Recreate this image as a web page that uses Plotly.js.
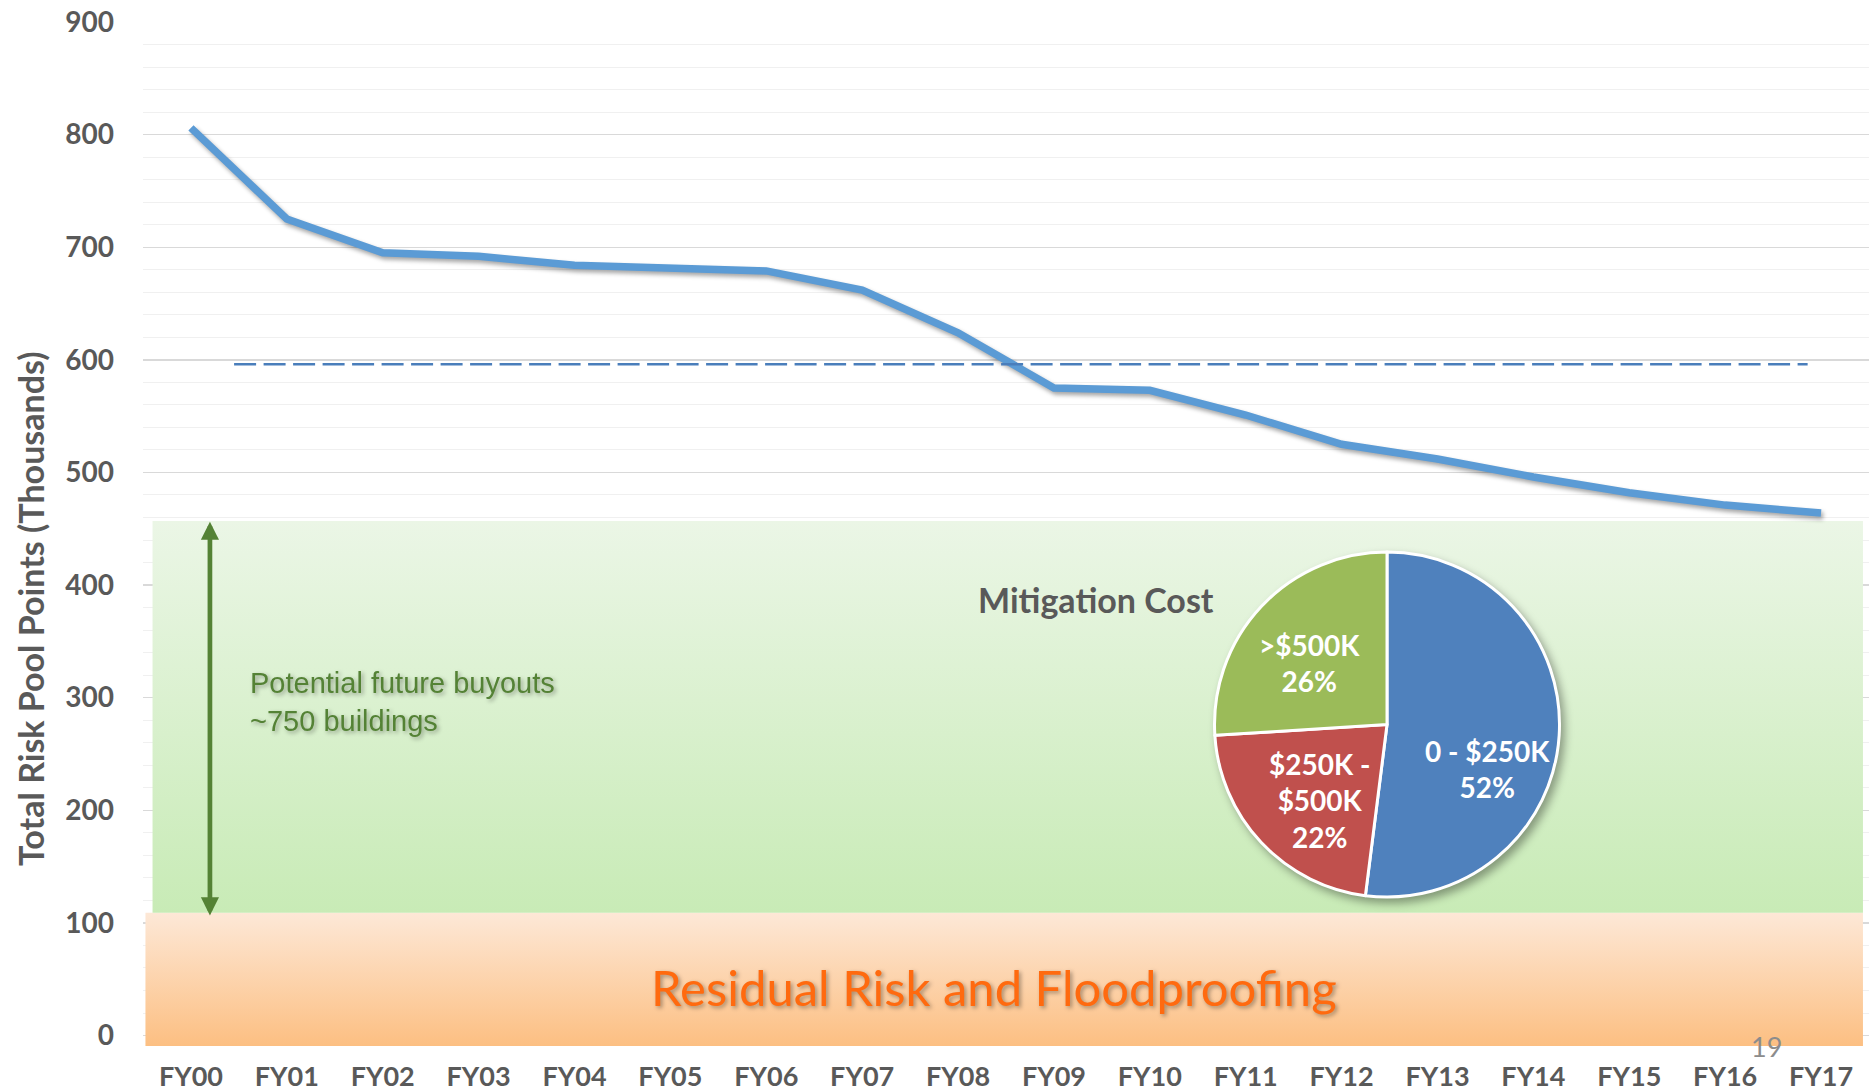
<!DOCTYPE html>
<html>
<head>
<meta charset="utf-8">
<script src="https://cdn.plot.ly/plotly-3.0.1.min.js"></script>
<style>
html,body{margin:0;padding:0;background:#ffffff;}
#chart{width:1870px;height:1091px;}
</style>
</head>
<body>
<div id="chart"></div>
<script>
// ---- data ----
const fiscalYears = ["FY00","FY01","FY02","FY03","FY04","FY05","FY06","FY07","FY08",
                     "FY09","FY10","FY11","FY12","FY13","FY14","FY15","FY16","FY17"];
const riskPoints  = [806, 725, 695, 692, 684, 682, 679, 662, 624,
                     575, 573, 551, 525, 512, 496, 482, 471, 464];
const thresholdLevel = 596;      // dashed reference level
const residualTop    = 109;      // top of "Residual Risk" band
const buyoutTop      = 457;      // top of "Potential future buyouts" band
const costLabels = ["0 - $250K", "$250K -<br>$500K", ">$500K"];
const costShares = [52, 22, 26];
const costColors = ["#4f81bd", "#c0504d", "#9bbb59"];
const bandLabels = {
  residual: "Residual Risk and Floodproofing",
  buyouts: "Potential future buyouts<br>~750 buildings",
  pieTitle: "Mitigation Cost",
  yTitle: "Total Risk Pool Points (Thousands)",
  page: "19"
};

const idx = fiscalYears.map((_, i) => i);
const FONT = "Lato, 'Open Sans', sans-serif";
const GREY = "#595959";

// ---- decorative gradient bands (drawn as filled traces) ----
const bandX0Orange = -0.4745, bandX0Green = -0.4005, bandX1 = 17.437, yMin = -9.3;
const orangeBand = {
  type: "scatter", mode: "lines", line: {width: 0},
  x: [bandX0Orange, bandX1, bandX1, bandX0Orange, bandX0Orange],
  y: [yMin, yMin, residualTop, residualTop, yMin],
  fill: "toself",
  fillgradient: {type: "vertical", colorscale: [[0, "#fcbf82"], [1, "#fde8d7"]]},
  hoverinfo: "skip", showlegend: false
};
const greenBand = {
  type: "scatter", mode: "lines", line: {width: 0},
  x: [bandX0Green, bandX1, bandX1, bandX0Green, bandX0Green],
  y: [residualTop, residualTop, buyoutTop, buyoutTop, residualTop],
  fill: "toself",
  fillgradient: {type: "vertical", colorscale: [[0, "#c8ebb6"], [1, "#ebf6e6"]]},
  hoverinfo: "skip", showlegend: false
};

const riskLine = {
  type: "scatter", mode: "lines",
  x: idx, y: riskPoints,
  line: {color: "#5b9bd5", width: 7.5},
  name: "Total Risk Pool Points", showlegend: false
};

const pie = {
  type: "pie",
  values: costShares, labels: costLabels,
  marker: {colors: costColors, line: {color: "#ffffff", width: 3}},
  sort: false, direction: "clockwise", rotation: 0,
  textinfo: "none", hoverinfo: "label+percent",
  domain: {x: [0.6205, 0.821], y: [0.1455, 0.4824]},
  showlegend: false
};

// pie label positions (axis units)
const pieLabelPos = [[13.526, 236.7], [11.774, 208.3], [11.67, 330.5]];
const pieAnnotations = costLabels.map((lab, i) => ({
  xref: "x", yref: "y", x: pieLabelPos[i][0], y: pieLabelPos[i][1],
  text: lab + "<br>" + costShares[i] + "%",
  showarrow: false, xanchor: "center", yanchor: "middle",
  font: {family: FONT, size: 28, color: "#ffffff", weight: 700}
}));

const layout = {
  width: 1870, height: 1091,
  margin: {l: 143, r: 1, t: 22, b: 45},
  paper_bgcolor: "#ffffff", plot_bgcolor: "#ffffff",
  showlegend: false,
  xaxis: {
    type: "linear", range: [-0.5, 17.5],
    tickmode: "array", tickvals: idx, ticktext: fiscalYears,
    showgrid: false, zeroline: false, showline: false, ticks: "",
    tickfont: {family: FONT, size: 27, color: GREY, weight: 700},
    ticklabelstandoff: 12, fixedrange: true
  },
  yaxis: {
    range: [yMin, 900], tick0: 0, dtick: 100,
    showgrid: true, gridcolor: "#d9d9d9", gridwidth: 1.4,
    minor: {dtick: 20, tick0: 0, showgrid: true, gridcolor: "#f0f0f0", gridwidth: 1},
    zeroline: false, showline: false, ticks: "",
    tickfont: {family: FONT, size: 28, color: GREY, weight: 700},
    ticklabelstandoff: 28, fixedrange: true
  },
  shapes: [{
    type: "line", xref: "x", yref: "y",
    x0: 0.45, x1: 16.86, y0: thresholdLevel, y1: thresholdLevel,
    line: {color: "#4a7ebb", width: 2.5, dash: "22px,7.5px"},
    layer: "above"
  }],
  annotations: [
    { // 0: double arrow
      xref: "x", yref: "y", x: 0.198, y: buyoutTop - 0.7,
      axref: "x", ayref: "y", ax: 0.198, ay: residualTop - 3.7,
      text: "", showarrow: true, arrowside: "end+start",
      arrowhead: 2, startarrowhead: 2, arrowsize: 0.77, startarrowsize: 0.77,
      arrowwidth: 4.7, arrowcolor: "#548235", standoff: 0, startstandoff: 0
    },
    { // 1: buyouts text
      xref: "x", yref: "y", x: 0.59, y: 296, xanchor: "left", yanchor: "middle", align: "left",
      text: bandLabels.buyouts, showarrow: false,
      font: {family: "'Liberation Sans', Arial, sans-serif", size: 29, color: "#548235"}
    },
    { // 2: residual text
      xref: "x", yref: "y", x: 8.379, y: 42.7, xanchor: "center", yanchor: "middle",
      text: bandLabels.residual, showarrow: false,
      font: {family: FONT, size: 49, color: "#ff6a0f"}
    },
    { // 3: pie title
      xref: "x", yref: "y", x: 9.438, y: 386.8, xanchor: "center", yanchor: "middle",
      text: bandLabels.pieTitle, showarrow: false,
      font: {family: FONT, size: 34, color: GREY, weight: 700}
    },
    { // 4: y axis title
      xref: "paper", yref: "paper", x: -0.0655, y: 0.4277, xanchor: "center", yanchor: "middle",
      text: bandLabels.yTitle, textangle: -90, showarrow: false,
      font: {family: FONT, size: 34, color: GREY, weight: 700}
    },
    { // 5: page number
      xref: "paper", yref: "paper", x: 0.9406, y: -0.0005, xanchor: "center", yanchor: "middle",
      text: bandLabels.page, showarrow: false,
      font: {family: FONT, size: 27, color: "#8c8c8c"}
    }
  ].concat(pieAnnotations)
};

const gd = document.getElementById("chart");
Plotly.newPlot(gd, [orangeBand, greenBand, riskLine, pie], layout, {displayModeBar: false, staticPlot: true})
  .then(() => {
    const traces = gd.querySelectorAll(".scatterlayer .trace");
    if (traces.length) {
      const lineTrace = traces[traces.length - 1];
      lineTrace.style.filter = "drop-shadow(2px 3px 2px rgba(0,0,0,0.35))";
    }
    gd.querySelectorAll(".pielayer .trace").forEach(t => {
      t.style.filter = "drop-shadow(4px 5px 4px rgba(0,0,0,0.35))";
    });
    [1, 2].forEach(i => {
      const a = gd.querySelector('.annotation[data-index="' + i + '"] .annotation-text');
      if (a) a.style.filter = "drop-shadow(2px 2px 2px rgba(0,0,0,0.35))";
    });
  });
</script>
</body>
</html>
